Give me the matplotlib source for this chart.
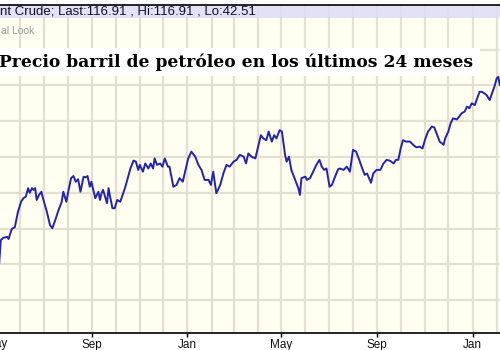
import matplotlib
matplotlib.use('Agg')
import matplotlib.pyplot as plt
import matplotlib.dates as mdates
import matplotlib.transforms as mtransforms
import pandas as pd
from matplotlib.patches import Rectangle

# Brent crude, daily close
dates = ['2009-05-05', '2009-05-07', '2009-05-10', '2009-05-15', '2009-05-17', '2009-05-21', '2009-05-25',
         '2009-05-29', '2009-06-02', '2009-06-05', '2009-06-08', '2009-06-11', '2009-06-13', '2009-06-16',
         '2009-06-18', '2009-06-20', '2009-06-22', '2009-06-25', '2009-06-28', '2009-06-30', '2009-07-05',
         '2009-07-09', '2009-07-12', '2009-07-15', '2009-07-20', '2009-07-24', '2009-07-26', '2009-07-30',
         '2009-08-01', '2009-08-05', '2009-08-08', '2009-08-11', '2009-08-14', '2009-08-17', '2009-08-21',
         '2009-08-24', '2009-08-26', '2009-08-29', '2009-08-31', '2009-09-05', '2009-09-07', '2009-09-09',
         '2009-09-11', '2009-09-13', '2009-09-15', '2009-09-20', '2009-09-22', '2009-09-24', '2009-09-27',
         '2009-09-30', '2009-10-03', '2009-10-07', '2009-10-10', '2009-10-13', '2009-10-17', '2009-10-20',
         '2009-10-24', '2009-10-27', '2009-10-30', '2009-11-01', '2009-11-05', '2009-11-08', '2009-11-12',
         '2009-11-15', '2009-11-18', '2009-11-20', '2009-11-23', '2009-11-27', '2009-11-30', '2009-12-03',
         '2009-12-07', '2009-12-09', '2009-12-14', '2009-12-18', '2009-12-22', '2009-12-26', '2009-12-29',
         '2010-01-02', '2010-01-06', '2010-01-11', '2010-01-15', '2010-01-19', '2010-01-23', '2010-01-28',
         '2010-01-31', '2010-02-03', '2010-02-07', '2010-02-12', '2010-02-16', '2010-02-20', '2010-02-24',
         '2010-03-01', '2010-03-05', '2010-03-09', '2010-03-14', '2010-03-17', '2010-03-20', '2010-03-24',
         '2010-03-29', '2010-03-31', '2010-04-05', '2010-04-08', '2010-04-12', '2010-04-15', '2010-04-19',
         '2010-04-22', '2010-04-25', '2010-04-29', '2010-05-02', '2010-05-06', '2010-05-08', '2010-05-11',
         '2010-05-14', '2010-05-19', '2010-05-23', '2010-05-25', '2010-05-27', '2010-06-01', '2010-06-03',
         '2010-06-07', '2010-06-11', '2010-06-15', '2010-06-19', '2010-06-22', '2010-06-25', '2010-06-28',
         '2010-07-02', '2010-07-05', '2010-07-09', '2010-07-13', '2010-07-15', '2010-07-20', '2010-07-24',
         '2010-07-28', '2010-08-01', '2010-08-05', '2010-08-09', '2010-08-12', '2010-08-16', '2010-08-19',
         '2010-08-24', '2010-08-27', '2010-08-31', '2010-09-05', '2010-09-09', '2010-09-13', '2010-09-17',
         '2010-09-22', '2010-09-25', '2010-09-28', '2010-10-01', '2010-10-04', '2010-10-08', '2010-10-13',
         '2010-10-17', '2010-10-21', '2010-10-25', '2010-10-29', '2010-11-01', '2010-11-05', '2010-11-10',
         '2010-11-13', '2010-11-16', '2010-11-20', '2010-11-25', '2010-11-27', '2010-12-01', '2010-12-04',
         '2010-12-07', '2010-12-12', '2010-12-15', '2010-12-18', '2010-12-22', '2010-12-25', '2010-12-28',
         '2010-12-31', '2011-01-04', '2011-01-07', '2011-01-10', '2011-01-13', '2011-01-16', '2011-01-19',
         '2011-01-23', '2011-01-26', '2011-01-29', '2011-02-01', '2011-02-03', '2011-02-05']
prices = [50.4, 56.8, 57.4, 57.7, 57.1, 59.9, 60.4,
          64.7, 67.5, 68.5, 68.9, 71.3, 70.0, 71.3,
          70.8, 71.3, 68.0, 69.4, 70.3, 68.5, 64.7,
          61.0, 60.1, 61.9, 65.2, 67.5, 70.3, 67.5,
          69.9, 74.1, 74.7, 73.1, 73.8, 70.3, 74.5,
          74.3, 74.7, 71.7, 73.1, 68.5, 69.4, 70.3,
          68.0, 69.9, 70.8, 67.1, 71.3, 68.9, 65.7,
          65.7, 68.0, 67.5, 69.4, 71.3, 74.5, 76.8,
          79.0, 78.7, 76.4, 77.8, 75.9, 78.2, 76.8,
          78.2, 76.8, 79.6, 77.8, 78.2, 77.3, 79.6,
          77.3, 77.3, 71.7, 72.2, 74.1, 73.1, 75.9,
          79.6, 81.5, 80.1, 77.8, 76.4, 73.6, 73.6,
          72.2, 75.9, 69.9, 72.2, 75.4, 77.8, 77.3,
          78.7, 79.2, 80.6, 80.1, 78.2, 81.0, 80.1,
          79.6, 81.5, 86.1, 85.2, 84.7, 87.1, 84.3,
          86.1, 85.2, 87.5, 87.1, 80.6, 78.7, 80.1,
          76.4, 73.6, 71.3, 69.4, 74.1, 74.5, 73.6,
          74.1, 75.9, 77.8, 79.2, 77.3, 76.4, 76.8,
          71.7, 72.2, 74.5, 76.6, 76.8, 76.4, 77.3,
          75.9, 82.0, 81.5, 79.2, 77.3, 75.0, 75.4,
          72.8, 75.4, 76.4, 76.4, 78.2, 79.2, 79.0,
          78.2, 79.2, 79.2, 82.4, 84.7, 84.3, 84.3,
          83.4, 82.7, 82.9, 82.4, 84.7, 87.1, 88.5,
          88.3, 86.6, 84.3, 83.4, 85.2, 87.1, 89.4,
          90.8, 90.5, 91.3, 92.2, 92.7, 94.1, 93.6,
          95.0, 94.5, 96.4, 98.2, 98.2, 97.8, 97.3,
          95.9, 97.8, 99.6, 102.0, 102.4, 100.1]

grid_levels = [40, 50, 60, 70, 80, 90, 100, 110]
header = 'nt Crude; Last:116.91 , Hi:116.91 , Lo:42.51'
subheader = 'al Look'
title = 'Precio barril de petróleo en los últimos 24 meses'

W, H = 500, 350


def fy(y):  # pixel row from the top -> figure fraction
    return 1 - y / H


fig = plt.figure(figsize=(5, 3.5), dpi=100, facecolor='white')
ax = fig.add_axes([0, 17 / H, 1, 328 / H])  # plot area from y=5 px to y=333 px
ax.set_facecolor('#FFFEF1')

x = pd.to_datetime(dates)
ax.plot(x, prices, color='#2424A6', lw=1.4, zorder=3)

ax.set_xlim(pd.Timestamp('2009-05-06'), pd.Timestamp('2011-02-05 05:00'))
ax.set_ylim(30.84, 122.46)

ax.xaxis.set_major_locator(mdates.MonthLocator(bymonth=[1, 5, 9]))
ax.xaxis.set_major_formatter(mdates.DateFormatter('%b'))
ax.xaxis.set_minor_locator(mdates.MonthLocator())
ax.set_yticks(grid_levels)
ax.set_yticklabels([])
ax.tick_params(axis='y', length=0)
ax.tick_params(axis='x', which='major', length=3, width=1, color='black', pad=1.5,
               labelsize=8.5, labelcolor='#111111')
ax.tick_params(axis='x', which='minor', length=0)
for lab in ax.get_xticklabels():
    lab.set_family('Liberation Sans')

ax.set_axisbelow(True)
ax.grid(True, which='both', axis='x', color='#E3E0D2', lw=1.6)
ax.grid(True, which='major', axis='y', color='#E3E0D2', lw=1.6)

for side in ['left', 'right']:
    ax.spines[side].set_visible(False)
ax.spines['bottom'].set_color('black')
ax.spines['bottom'].set_linewidth(1.2)
ax.spines['top'].set_color('black')
ax.spines['top'].set_linewidth(1.2)

# lavender header strip inside the plot frame
ax.add_patch(Rectangle((0, (333 - 18) / 328), 1, 13 / 328, transform=ax.transAxes,
                       facecolor='#DEDEF6', edgecolor='none', alpha=0.85, zorder=1.5))

# partially visible first "May" label at the left edge
tr = mtransforms.blended_transform_factory(ax.transData, fig.transFigure)
ax.text(pd.Timestamp('2009-05-01'), fy(337.5), 'May', transform=tr, ha='center', va='top',
        fontsize=8.5, family='Liberation Sans', color='#111111', clip_on=False)

fig.text(0.5 / W, fy(12), header, va='center', ha='left', fontsize=9.5,
         family='Liberation Sans', color='#10102A')
fig.text(1 / W, fy(31), subheader, va='center', ha='left', fontsize=7.5,
         family='Liberation Sans', color='#9A9A9A')

fig.add_artist(Rectangle((0, fy(76)), 480 / W, 28 / H, transform=fig.transFigure,
                         facecolor='white', edgecolor='none', zorder=2))
ttl = fig.text(-1 / W, fy(62), title, va='center', ha='left', fontsize=13, fontweight='bold',
               family='DejaVu Serif', color='black', zorder=3)

# stretch the title so it ends where the reference ends (about x = 472 px)
renderer = fig.canvas.get_renderer()
width = ttl.get_window_extent(renderer).width
ttl.set_fontsize(13 * 473 / width)

fig.savefig('out.png', dpi=100)
